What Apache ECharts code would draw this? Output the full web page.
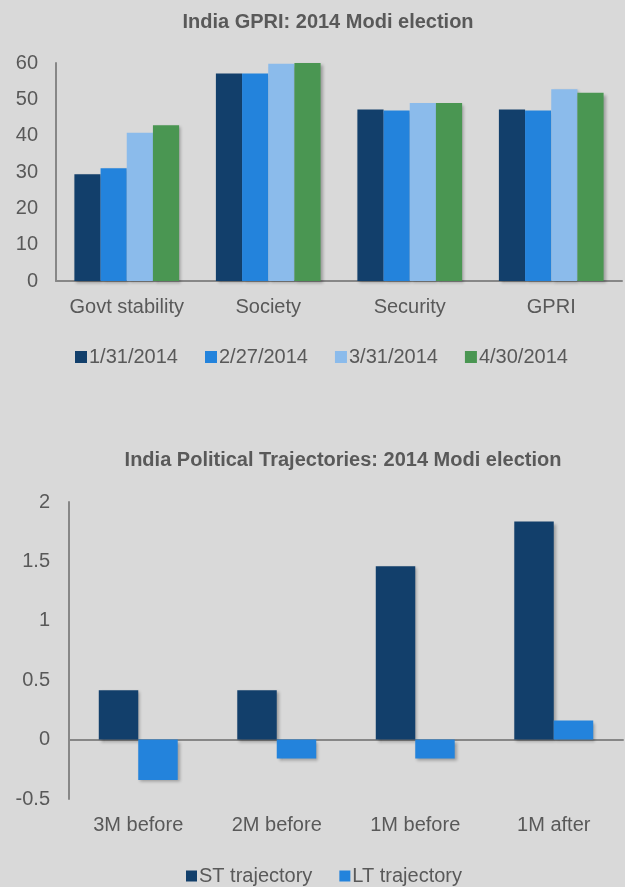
<!DOCTYPE html>
<html>
<head>
<meta charset="utf-8">
<script src="https://cdn.jsdelivr.net/npm/echarts@6/dist/echarts.min.js"></script>
<style>
html,body{margin:0;padding:0;background:#d9d9d9;}
#c{width:625px;height:887px;}
</style>
</head>
<body>
<div id="c"></div>
<script>
const title1 = "India GPRI: 2014 Modi election";
const title2 = "India Political Trajectories: 2014 Modi election";
const categories1 = ["Govt stability", "Society", "Security", "GPRI"];
const seriesNames1 = ["1/31/2014", "2/27/2014", "3/31/2014", "4/30/2014"];
const s1_0131 = [29.4, 57.1, 47.2, 47.2];
const s1_0227 = [31.0, 57.1, 46.9, 46.9];
const s1_0331 = [40.8, 59.8, 49.0, 52.8];
const s1_0430 = [42.9, 60.0, 49.0, 51.8];
const yTicks1 = {min: 0, max: 60, interval: 10};

const categories2 = ["3M before", "2M before", "1M before", "1M after"];
const seriesNames2 = ["ST trajectory", "LT trajectory"];
const stTrajectory = [0.415, 0.415, 1.46, 1.835];
const ltTrajectory = [-0.34, -0.16, -0.16, 0.16];
const yTicks2 = {min: -0.5, max: 2, interval: 0.5};

const colors1 = ["#123f6b", "#2383dc", "#8bbbeb", "#4a9652"];
const colors2 = ["#123f6b", "#2383dc"];
const FONT = "'Liberation Sans', Arial, sans-serif";
const TXT = "#595959";
const AX = "#878787";
const shadow = {shadowColor: "rgba(0,0,0,0.28)", shadowBlur: 3, shadowOffsetX: 2, shadowOffsetY: 2};

const data1 = [s1_0131, s1_0227, s1_0331, s1_0430];
const data2 = [stTrajectory, ltTrajectory];

const series = [];
seriesNames1.forEach((n, i) => {
  series.push({
    name: n, type: "bar", xAxisIndex: 0, yAxisIndex: 0,
    data: data1[i], barGap: "0%", barCategoryGap: "26%",
    itemStyle: Object.assign({color: colors1[i]}, shadow)
  });
});
seriesNames2.forEach((n, i) => {
  series.push({
    name: n, type: "bar", xAxisIndex: 1, yAxisIndex: 1,
    data: data2[i], barGap: "0%", barCategoryGap: "43%",
    itemStyle: Object.assign({color: colors2[i]}, shadow)
  });
});

const chart = echarts.init(document.getElementById("c"), null, {renderer: "canvas"});
chart.setOption({
  backgroundColor: "#d9d9d9",
  animation: false,
  textStyle: {fontFamily: FONT},
  title: [
    {text: title1, left: 323, top: 7, textAlign: "center",
     textStyle: {fontFamily: FONT, fontWeight: "bold", fontSize: 20, color: TXT}},
    {text: title2, left: 338, top: 445, textAlign: "center",
     textStyle: {fontFamily: FONT, fontWeight: "bold", fontSize: 20, color: TXT}}
  ],
  legend: [
    {data: seriesNames1, left: 70, top: 342, itemWidth: 12, itemHeight: 12, itemGap: 27,
     icon: "rect", textStyle: {fontFamily: FONT, fontSize: 20, color: TXT, padding: [0,0,0,-3]}},
    {data: seriesNames2, left: 181, top: 861, itemWidth: 11, itemHeight: 11, itemGap: 27,
     icon: "rect", textStyle: {fontFamily: FONT, fontSize: 20, color: TXT, padding: [0,0,0,-3]}}
  ],
  grid: [
    {left: 56, top: 63, width: 566, height: 218},
    {left: 69, top: 502, width: 554, height: 297}
  ],
  xAxis: [
    {type: "category", gridIndex: 0, data: categories1,
     axisLine: {lineStyle: {color: AX, width: 2}}, axisTick: {show: false},
     axisLabel: {interval: 0, hideOverlap: false, margin: 16, fontFamily: FONT, fontSize: 20, color: TXT}},
    {type: "category", gridIndex: 1, data: categories2,
     axisLine: {onZero: true, lineStyle: {color: AX, width: 2}}, axisTick: {show: false},
     axisLabel: {show: false}},
    {type: "category", gridIndex: 1, data: categories2, position: "bottom",
     axisLine: {show: false, onZero: false}, axisTick: {show: false},
     axisLabel: {interval: 0, hideOverlap: false, margin: 16, fontFamily: FONT, fontSize: 20, color: TXT}}
  ],
  yAxis: [
    {type: "value", gridIndex: 0, min: yTicks1.min, max: yTicks1.max, interval: yTicks1.interval,
     axisLine: {show: true, lineStyle: {color: AX, width: 2}}, axisTick: {show: false}, splitLine: {show: false},
     axisLabel: {margin: 18, fontFamily: FONT, fontSize: 20, color: TXT}},
    {type: "value", gridIndex: 1, min: yTicks2.min, max: yTicks2.max, interval: yTicks2.interval,
     axisLine: {show: true, onZero: false, lineStyle: {color: AX, width: 2}}, axisTick: {show: false}, splitLine: {show: false},
     axisLabel: {margin: 19, fontFamily: FONT, fontSize: 20, color: TXT}}
  ],
  series: series
});
</script>
</body>
</html>
